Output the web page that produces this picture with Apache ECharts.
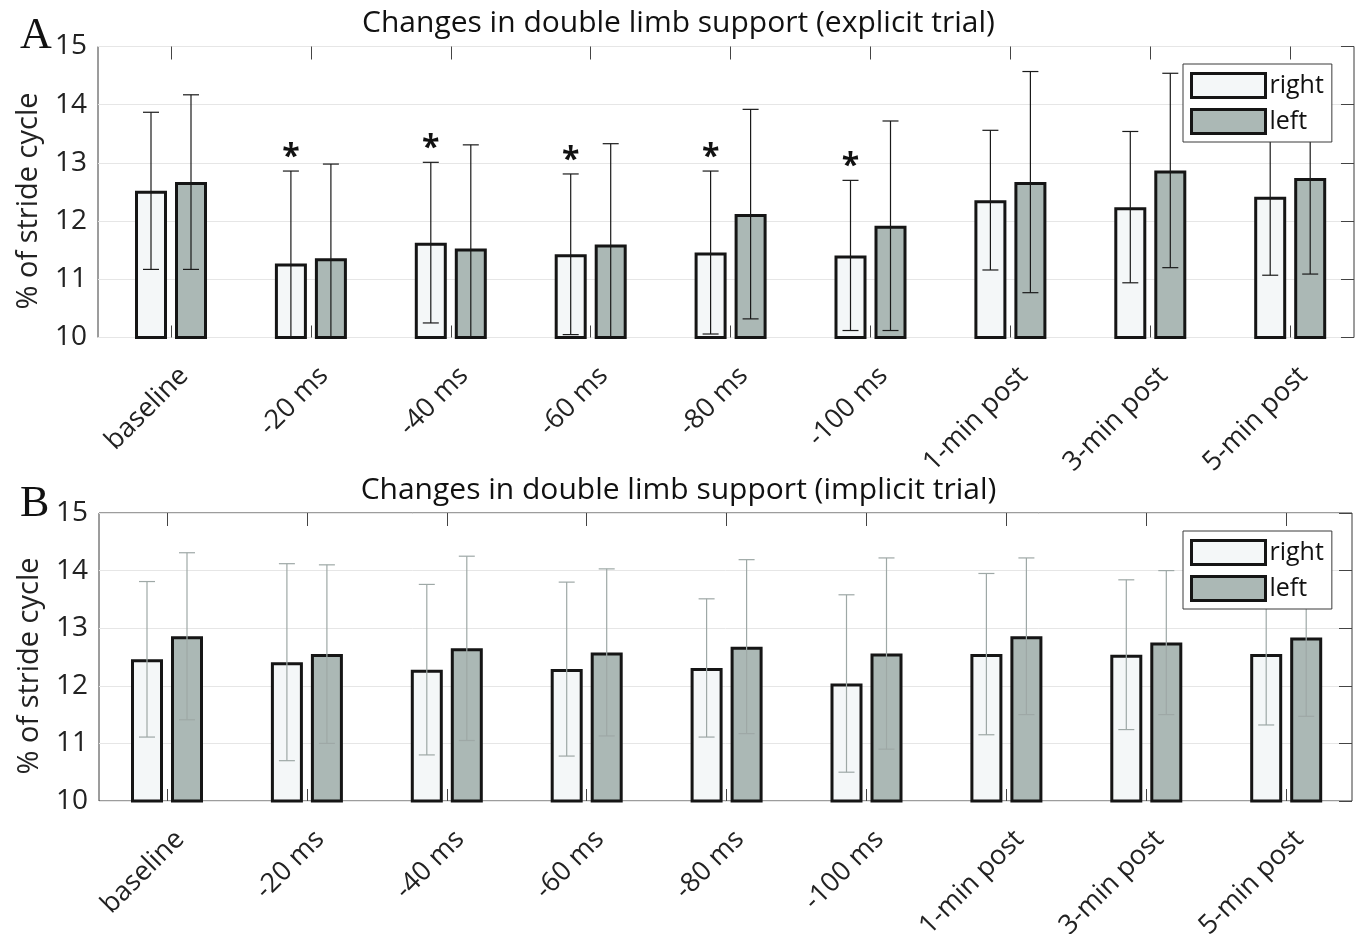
<!DOCTYPE html>
<html>
<head>
<meta charset="utf-8">
<script src="https://cdn.jsdelivr.net/npm/echarts@6/dist/echarts.min.js"></script>
<style>
  html, body { margin: 0; padding: 0; background: #fff; }
  #chart { width: 1357px; height: 934px; }
</style>
</head>
<body>
<div id="chart"></div>
<script>
// Conditions along the stride-timing protocol
const categories = ['baseline', '-20 ms', '-40 ms', '-60 ms', '-80 ms', '-100 ms', '1-min post', '3-min post', '5-min post'];
const yTickMin = 10;
const yTickMax = 15;
const yTickStep = 1;

// Panel A: explicit trial (mean and SD, % of stride cycle)
const explicitRightMean = [12.52, 11.27, 11.63, 11.43, 11.46, 11.41, 12.36, 12.24, 12.42];
const explicitRightSd   = [1.35, 1.59, 1.38, 1.38, 1.40, 1.29, 1.20, 1.30, 1.35];
const explicitLeftMean  = [12.67, 11.36, 11.53, 11.60, 12.12, 11.92, 12.67, 12.87, 12.74];
const explicitLeftSd    = [1.50, 1.62, 1.78, 1.73, 1.80, 1.80, 1.90, 1.67, 1.65];
const explicitSignificant = [false, true, true, true, true, true, false, false, false];

// Panel B: implicit trial (mean and SD, % of stride cycle)
const implicitRightMean = [12.46, 12.41, 12.28, 12.29, 12.31, 12.04, 12.55, 12.54, 12.55];
const implicitRightSd   = [1.35, 1.71, 1.48, 1.51, 1.20, 1.54, 1.40, 1.30, 1.23];
const implicitLeftMean  = [12.86, 12.55, 12.65, 12.58, 12.68, 12.56, 12.86, 12.75, 12.84];
const implicitLeftSd    = [1.45, 1.55, 1.60, 1.45, 1.51, 1.66, 1.36, 1.25, 1.37];

const FONT = 'Open Sans';
const RIGHT_FILL = '#f4f7f8';
const LEFT_FILL = '#abb8b5';
const EDGE = '#151515';
const BAR_W = 32;
const BAR_GAP = 8;
const SIDE_OFFSET = (BAR_W + BAR_GAP) / 2;
const CAP_HALF = 8;
const CAT_STEP = 139.9;
const LABEL_SHIFT = 13;

function errorBars(color, side, flags) {
  return function (params, api) {
    const idx = api.value(0);
    const mean = api.value(1);
    const sd = api.value(2);
    const hi = mean + sd;
    const loRaw = mean - sd;
    const lo = Math.max(loRaw, yTickMin);
    const pHi = api.coord([idx, hi]);
    const pLo = api.coord([idx, lo]);
    const x = pHi[0] + side * SIDE_OFFSET;
    const ls = { stroke: color, lineWidth: 1.2 };
    const children = [
      { type: 'line', shape: { x1: x, y1: pHi[1], x2: x, y2: pLo[1] }, style: ls },
      { type: 'line', shape: { x1: x - CAP_HALF, y1: pHi[1], x2: x + CAP_HALF, y2: pHi[1] }, style: ls }
    ];
    if (loRaw >= yTickMin) {
      children.push({ type: 'line', shape: { x1: x - CAP_HALF, y1: pLo[1], x2: x + CAP_HALF, y2: pLo[1] }, style: ls });
    }
    if (flags && flags[idx]) {
      children.push({
        type: 'text',
        style: {
          text: '*', x: x, y: pHi[1] - 13,
          align: 'center', verticalAlign: 'middle',
          font: 'bold 32px "' + FONT + '"', fill: '#111'
        }
      });
    }
    return { type: 'group', children: children };
  };
}

function errorData(mean, sd) {
  return categories.map((c, i) => [i, mean[i], sd[i]]);
}

// Build one panel: a frame grid (box, y ticks, grid lines), a bar grid (categories)
// and a label grid carrying the slanted category names.
function buildPanel(p, opt) {
  const frameGrid = opt.grid.length;
  const barGridLeft = p.firstCenter - CAT_STEP / 2;
  const barGridWidth = CAT_STEP * categories.length;
  opt.grid.push(
    {
      left: p.frameLeft, right: p.frameRight, top: p.top, height: p.height,
      show: true, borderColor: '#3a3a3a', borderWidth: 1, backgroundColor: 'transparent',
      outerBoundsMode: 'none'
    },
    { left: barGridLeft, width: barGridWidth, top: p.top, height: p.height, outerBoundsMode: 'none' },
    { left: barGridLeft + LABEL_SHIFT, width: barGridWidth, top: p.top, height: p.height, outerBoundsMode: 'none' }
  );
  const barGrid = frameGrid + 1;
  const labelGrid = frameGrid + 2;

  opt.xAxis.push({ type: 'value', gridIndex: frameGrid, show: false, min: 0, max: 1 });
  const xBottom = opt.xAxis.length;
  opt.xAxis.push({
    type: 'category', gridIndex: barGrid, data: categories, position: 'bottom',
    axisLine: { show: false },
    axisTick: { show: true, inside: true, length: 12, alignWithLabel: true, lineStyle: { color: '#444', width: 1 } },
    axisLabel: { show: false }
  });
  opt.xAxis.push({
    type: 'category', gridIndex: barGrid, data: categories, position: 'top',
    axisLine: { show: false },
    axisTick: { show: true, inside: true, length: 13, alignWithLabel: true, lineStyle: { color: '#444', width: 1 } },
    axisLabel: { show: false }
  });
  opt.xAxis.push({
    type: 'category', gridIndex: labelGrid, data: categories, position: 'bottom',
    axisLine: { show: false }, axisTick: { show: false },
    axisLabel: { rotate: 45, margin: 34, fontFamily: FONT, fontSize: 27, color: '#222', interval: 0 }
  });

  opt.yAxis.push({
    type: 'value', gridIndex: frameGrid, min: yTickMin, max: yTickMax, interval: yTickStep,
    position: 'left',
    name: '% of stride cycle', nameLocation: 'middle', nameGap: 55,
    nameTextStyle: { fontFamily: FONT, fontSize: 29, color: '#222', padding: [0, 18, 0, 0] },
    axisLine: { show: false }, axisTick: { show: false },
    axisLabel: { fontFamily: FONT, fontSize: 28, color: '#222', margin: 11 },
    splitLine: { show: true, lineStyle: { color: '#e6e6e6', width: 1 } }
  });
  opt.yAxis.push({
    type: 'value', gridIndex: frameGrid, min: yTickMin, max: yTickMax, interval: yTickStep,
    position: 'right',
    axisLine: { show: false },
    axisTick: { show: true, inside: true, length: 13, lineStyle: { color: '#444' } },
    axisLabel: { show: false }, splitLine: { show: false }
  });
  const yBar = opt.yAxis.length;
  opt.yAxis.push({ type: 'value', gridIndex: barGrid, min: yTickMin, max: yTickMax, show: false });
  opt.yAxis.push({ type: 'value', gridIndex: labelGrid, min: yTickMin, max: yTickMax, show: false });

  opt.series.push(
    {
      name: 'right', type: 'bar', xAxisIndex: xBottom, yAxisIndex: yBar,
      data: p.rightMean, barWidth: BAR_W, barGap: (BAR_GAP / BAR_W * 100) + '%',
      itemStyle: { color: RIGHT_FILL, borderColor: EDGE, borderWidth: 3 }, z: 2
    },
    {
      name: 'left', type: 'bar', xAxisIndex: xBottom, yAxisIndex: yBar,
      data: p.leftMean, barWidth: BAR_W,
      itemStyle: { color: LEFT_FILL, borderColor: EDGE, borderWidth: 3 }, z: 2
    },
    {
      type: 'custom', xAxisIndex: xBottom, yAxisIndex: yBar, z: 5, silent: true,
      renderItem: errorBars(p.errColor, -1, p.significant),
      data: errorData(p.rightMean, p.rightSd)
    },
    {
      type: 'custom', xAxisIndex: xBottom, yAxisIndex: yBar, z: 5, silent: true,
      renderItem: errorBars(p.errColor, 1, null),
      data: errorData(p.leftMean, p.leftSd)
    }
  );

  opt.legend.push({
    data: [{ name: 'right', icon: 'rect' }, { name: 'left', icon: 'rect' }], orient: 'vertical',
    left: p.legendLeft, top: p.legendTop,
    backgroundColor: '#fff', borderColor: '#3a3a3a', borderWidth: 1,
    padding: [8, 8, 7, 7], itemGap: 9, itemWidth: 74, itemHeight: 24,
    selectedMode: false,
    itemStyle: { borderColor: EDGE, borderWidth: 3 },
    textStyle: { fontFamily: FONT, fontSize: 25, color: '#111', padding: [0, 0, 0, -1] },
    z: 10
  });

  opt.title.push(
    {
      text: p.title, left: 'center', top: p.titleTop,
      textStyle: { fontFamily: FONT, fontSize: 30, fontWeight: 'normal', color: '#111' }
    },
    {
      text: p.letter, left: 15, top: p.letterTop,
      textStyle: { fontFamily: 'Liberation Serif', fontSize: 44, fontWeight: 'normal', color: '#111' }
    }
  );
}

const option = {
  animation: false,
  backgroundColor: '#fff',
  grid: [], xAxis: [], yAxis: [], series: [], legend: [], title: []
};

buildPanel({
  title: 'Changes in double limb support (explicit trial)', letter: 'A',
  titleTop: 3, letterTop: 9,
  frameLeft: 98, frameRight: 3, top: 46.5, height: 291,
  firstCenter: 171,
  rightMean: explicitRightMean, rightSd: explicitRightSd,
  leftMean: explicitLeftMean, leftSd: explicitLeftSd,
  significant: explicitSignificant, errColor: '#1a1a1a',
  legendLeft: 1183, legendTop: 64
}, option);

buildPanel({
  title: 'Changes in double limb support (implicit trial)', letter: 'B',
  titleTop: 470, letterTop: 477,
  frameLeft: 99, frameRight: 5, top: 513, height: 288,
  firstCenter: 167,
  rightMean: implicitRightMean, rightSd: implicitRightSd,
  leftMean: implicitLeftMean, leftSd: implicitLeftSd,
  significant: null, errColor: '#9ea8a6',
  legendLeft: 1183, legendTop: 531
}, option);

const chart = echarts.init(document.getElementById('chart'), null, { renderer: 'canvas' });
chart.setOption(option);
</script>
</body>
</html>
